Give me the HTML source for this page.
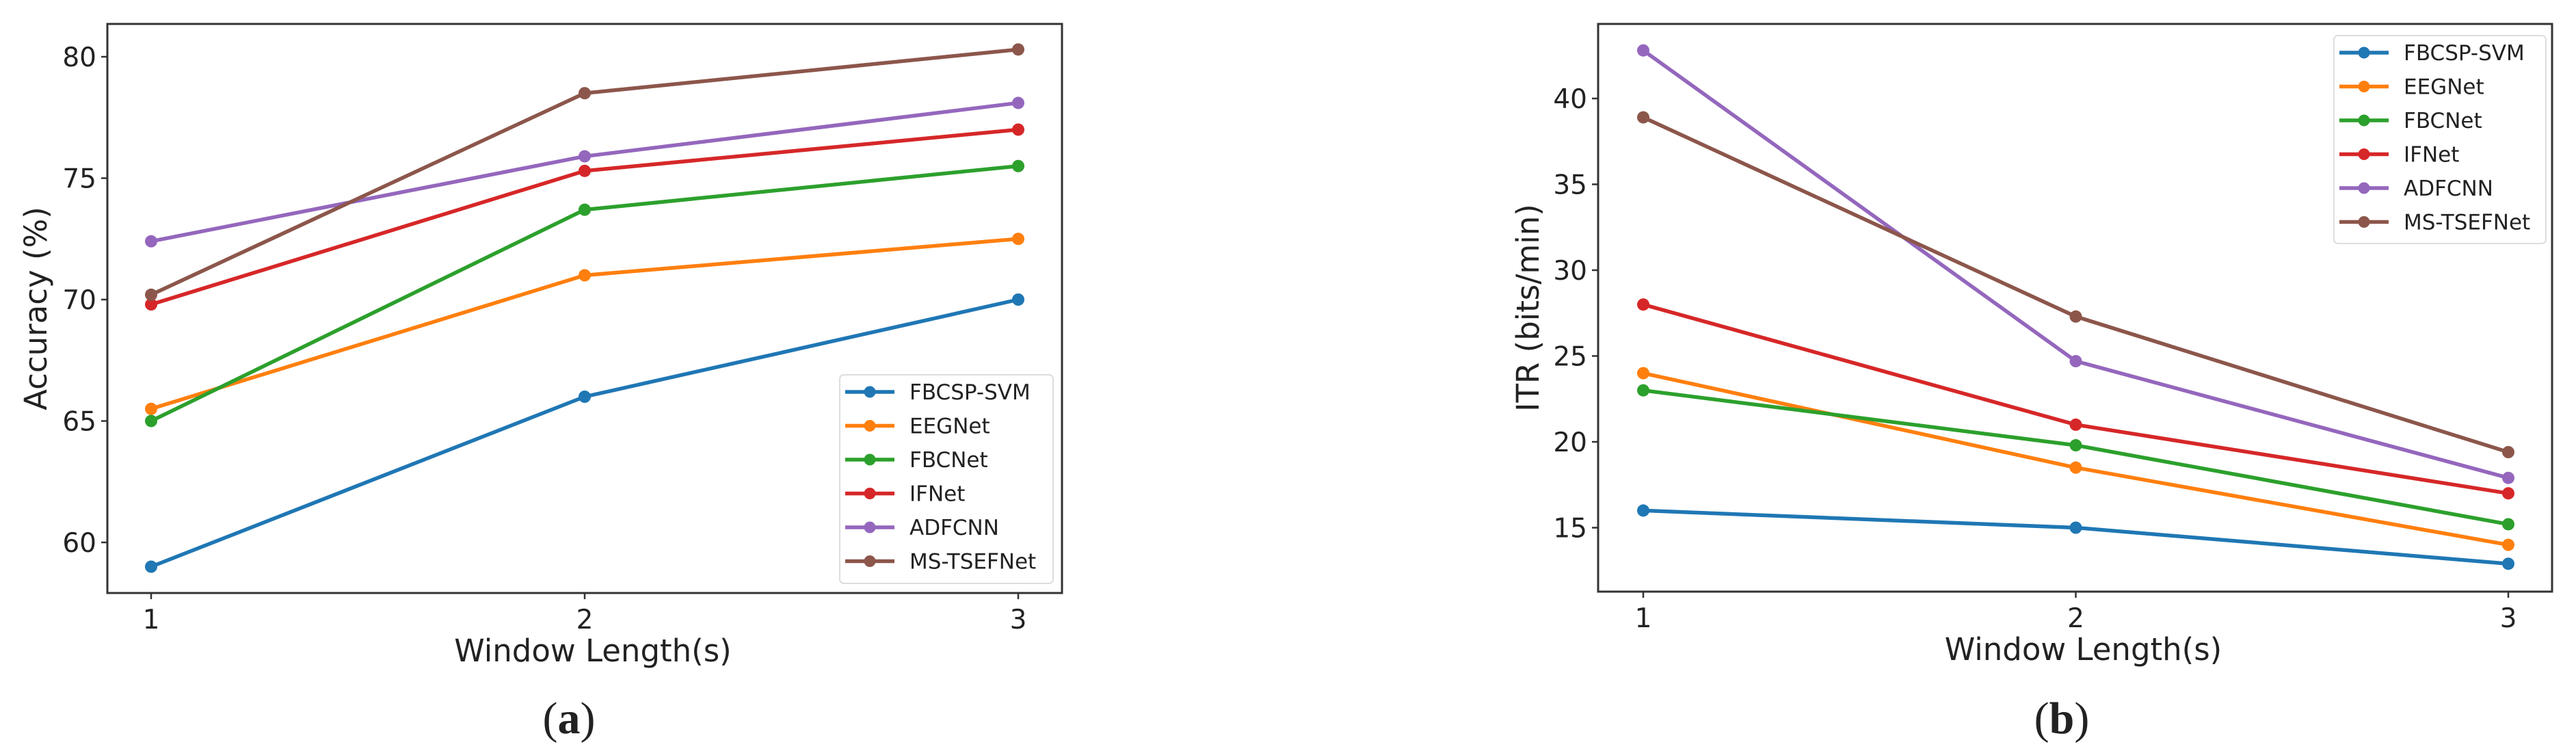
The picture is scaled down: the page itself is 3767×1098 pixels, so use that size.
<!DOCTYPE html>
<html><head><meta charset="utf-8"><style>
html,body{margin:0;padding:0;background:#fff;}
svg{display:block;}
text{font-family:"DejaVu Sans","Liberation Sans",sans-serif;fill:#222;}
</style></head><body>
<svg id="fig" width="3767" height="1098" viewBox="0 0 3767 1098" xmlns="http://www.w3.org/2000/svg"></svg>
<script>
// ---- data ----
const categories = [1, 2, 3];
const seriesNames = ["FBCSP-SVM", "EEGNet", "FBCNet", "IFNet", "ADFCNN", "MS-TSEFNet"];
const colors = ["#1f77b4", "#ff7f0e", "#2ca02c", "#d62728", "#9467bd", "#8c564b"];
const accFBCSP = [59, 66, 70];
const accEEGNet = [65.5, 71, 72.5];
const accFBCNet = [65, 73.7, 75.5];
const accIFNet = [69.8, 75.3, 77];
const accADFCNN = [72.4, 75.9, 78.1];
const accMSTSEF = [70.2, 78.5, 80.3];
const itrFBCSP = [16, 15, 12.9];
const itrEEGNet = [24, 18.5, 14];
const itrFBCNet = [23, 19.8, 15.2];
const itrIFNet = [28, 21, 17];
const itrADFCNN = [42.8, 24.7, 17.9];
const itrMSTSEF = [38.9, 27.3, 19.4];
const accTicks = [60, 65, 70, 75, 80];
const itrTicks = [15, 20, 25, 30, 35, 40];

const NS = "http://www.w3.org/2000/svg";
const svg = document.getElementById("fig");
function mk(tag, attrs, parent) {
  const e = document.createElementNS(NS, tag);
  for (const k in attrs) e.setAttribute(k, attrs[k]);
  (parent || svg).appendChild(e);
  return e;
}

function chart(cfg) {
  const g = mk("g", {});
  
  
  const X = v => cfg.x1 + (v - categories[0]) * (cfg.x3 - cfg.x1) / (categories[categories.length - 1] - categories[0]);
  const Y = v => cfg.yRefPx + (cfg.yRefVal - v) * cfg.pxPerUnit;
  const frame = mk("rect", {x: cfg.L, y: cfg.T, width: cfg.R - cfg.L, height: cfg.B - cfg.T, fill: "none", stroke: "#333", "stroke-width": 3}, g);
  
  
  cfg.yticks.forEach(t => {
    const y = Y(t);
    const tk = mk("line", {x1: cfg.L - 9, x2: cfg.L, y1: y, y2: y, stroke: "#333", "stroke-width": 2.5}, g);
    
    
    const tl = mk("text", {x: cfg.L - 16, y: y + 14, "text-anchor": "end", "font-size": 39}, g);
    tl.textContent = t;
    
    
  });
  categories.forEach(c => {
    const x = X(c);
    const tk = mk("line", {x1: x, x2: x, y1: cfg.B, y2: cfg.B + 9, stroke: "#333", "stroke-width": 2.5}, g);
    
    
    const tl = mk("text", {x: x, y: cfg.B + 52, "text-anchor": "middle", "font-size": 39}, g);
    tl.textContent = c;
    
    
  });
  const xt = mk("text", {x: (cfg.L + cfg.R) / 2 + 12, y: cfg.B + 100, "text-anchor": "middle", "font-size": 45}, g);
  xt.textContent = "Window Length(s)";
  
  
  const yt = mk("text", {x: 0, y: 0, "text-anchor": "middle", "font-size": 45, transform: `translate(${cfg.ylabX},${(cfg.T + cfg.B) / 2}) rotate(-90)`}, g);
  yt.textContent = cfg.ylabel;
  
  
  cfg.series.forEach((vals, i) => {
    const sg = mk("g", {}, g);
    
    
    const pts = vals.map((v, j) => X(categories[j]) + "," + Y(v)).join(" ");
    const pl = mk("polyline", {points: pts, fill: "none", stroke: colors[i], "stroke-width": 5.5, "stroke-linejoin": "round"}, sg);
    
    
    vals.forEach((v, j) => {
      const c = mk("circle", {cx: X(categories[j]), cy: Y(v), r: 9, fill: colors[i]}, sg);
      
      
    });
  });
  const lg = mk("g", {}, g);
  
  
  const lb = mk("rect", {x: cfg.legX, y: cfg.legY, width: cfg.legW, height: cfg.legH, rx: 6, fill: "#fff", stroke: "#ddd", "stroke-width": 2}, lg);
  
  
  seriesNames.forEach((n, i) => {
    const y = cfg.legY + 25 + i * 49.5;
    const eg = mk("g", {}, lg);
    
    
    mk("line", {x1: cfg.legX + 8, x2: cfg.legX + 80, y1: y, y2: y, stroke: colors[i], "stroke-width": 5.5}, eg);
    mk("circle", {cx: cfg.legX + 44, cy: y, r: 8.5, fill: colors[i]}, eg);
    const t = mk("text", {x: cfg.legX + 102, y: y + 11, "font-size": 31}, eg);
    t.textContent = n;
  });
  const cap = mk("text", {x: cfg.capX, y: 1072, "text-anchor": "middle", "font-size": 66, style: "font-family:'Liberation Serif',serif;"}, g);
  cap.innerHTML = '(<tspan font-weight="bold">' + cfg.cap + '</tspan>)';
  
  
}

chart({name: "accuracy-chart", L: 157, R: 1553, T: 35, B: 867, x1: 221, x3: 1489,
  yRefVal: 80, yRefPx: 83, pxPerUnit: 35.5, yticks: accTicks, ylabel: "Accuracy (%)", ylabX: 68,
  series: [accFBCSP, accEEGNet, accFBCNet, accIFNet, accADFCNN, accMSTSEF],
  legX: 1228, legY: 548, legW: 312, legH: 305, capX: 832, cap: "a"});
chart({name: "itr-chart", L: 2337, R: 3732, T: 35, B: 865, x1: 2403, x3: 3668,
  yRefVal: 40, yRefPx: 144, pxPerUnit: 25.1, yticks: itrTicks, ylabel: "ITR (bits/min)", ylabX: 2250,
  series: [itrFBCSP, itrEEGNet, itrFBCNet, itrIFNet, itrADFCNN, itrMSTSEF],
  legX: 3413, legY: 52, legW: 310, legH: 304, capX: 3015, cap: "b"});
</script>
</body></html>
